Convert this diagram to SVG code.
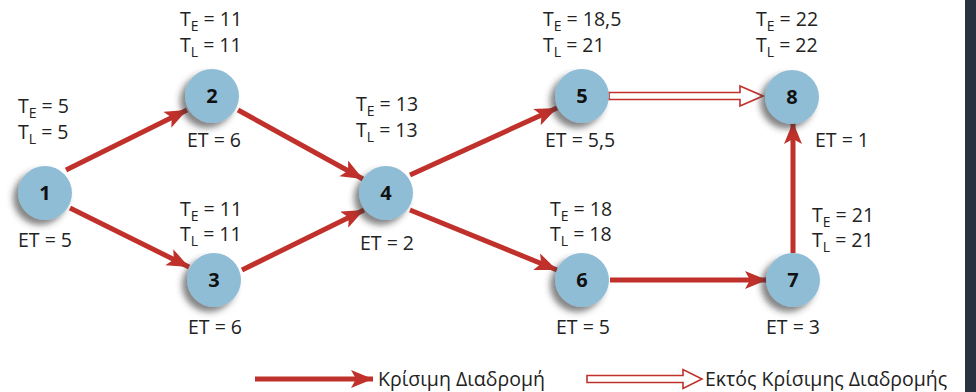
<svg xmlns="http://www.w3.org/2000/svg" width="976" height="392" viewBox="0 0 976 392">
<defs>
<filter id="sh" x="-50%" y="-50%" width="200%" height="200%">
<feDropShadow dx="-5" dy="5" stdDeviation="3" flood-color="#333" flood-opacity="0.6"/>
</filter>
<marker id="ah" markerUnits="userSpaceOnUse" markerWidth="24" markerHeight="20" refX="22" refY="9" orient="auto">
<path d="M0,0 L22,9 L0,18 L5,9 Z" fill="#c0312b"/>
</marker>
<style>
.n{fill:#8fbdd6;filter:url(#sh)}
.num{font-family:"Open Sans","Liberation Sans",sans-serif;font-weight:bold;font-size:20px;fill:#111;text-anchor:middle}
.t{font-family:"Open Sans","Liberation Sans",sans-serif;font-size:19.5px;fill:#222}
.s{font-size:14px}
.c{fill:none;stroke:#c0312b;stroke-width:5;marker-end:url(#ah)}
.h{fill:#fff;stroke:#c0312b;stroke-width:1.6;stroke-linejoin:miter}
</style>
</defs>
<rect width="976" height="392" fill="#fff"/>

<g id="connectors">
<path class="c" d="M66,170 L187,110"/>
<path class="c" d="M70,208 L189,267"/>
<path class="c" d="M238,110 L363,179"/>
<path class="c" d="M242,270 L364,210"/>
<path class="c" d="M410,175 L557,108"/>
<path class="c" d="M410,210 L557,270"/>
<path class="c" d="M610,280 L767,280"/>
<path class="c" d="M793,253 L793,122"/>
<polygon class="h" points="609,92.5 740,92.5 740,86 763,96 740,106 740,99.5 609,99.5"/>
</g>

<g id="node1"><circle class="n" cx="45" cy="193" r="27"/><text class="num" x="45" y="200">1</text>
<text class="t" x="18" y="113">T<tspan class="s" dy="5">E</tspan><tspan dy="-5"> = 5</tspan></text>
<text class="t" x="18" y="139">T<tspan class="s" dy="5">L</tspan><tspan dy="-5"> = 5</tspan></text>
<text class="t" x="18" y="247">ET = 5</text></g>

<g id="node2"><circle class="n" cx="212" cy="96" r="27"/><text class="num" x="212" y="103">2</text>
<text class="t" x="180" y="26">T<tspan class="s" dy="5">E</tspan><tspan dy="-5"> = 11</tspan></text>
<text class="t" x="180" y="52">T<tspan class="s" dy="5">L</tspan><tspan dy="-5"> = 11</tspan></text>
<text class="t" x="187" y="147">ET = 6</text></g>

<g id="node3"><circle class="n" cx="214" cy="280" r="27"/><text class="num" x="214" y="287">3</text>
<text class="t" x="180" y="216">T<tspan class="s" dy="5">E</tspan><tspan dy="-5"> = 11</tspan></text>
<text class="t" x="180" y="241">T<tspan class="s" dy="5">L</tspan><tspan dy="-5"> = 11</tspan></text>
<text class="t" x="188" y="334">ET = 6</text></g>

<g id="node4"><circle class="n" cx="386" cy="193" r="27"/><text class="num" x="386" y="200">4</text>
<text class="t" x="356" y="111">T<tspan class="s" dy="5">E</tspan><tspan dy="-5"> = 13</tspan></text>
<text class="t" x="356" y="137">T<tspan class="s" dy="5">L</tspan><tspan dy="-5"> = 13</tspan></text>
<text class="t" x="360" y="250">ET = 2</text></g>

<g id="node5"><circle class="n" cx="582" cy="96" r="27"/><text class="num" x="582" y="103">5</text>
<text class="t" x="543" y="26">T<tspan class="s" dy="5">E</tspan><tspan dy="-5"> = 18,5</tspan></text>
<text class="t" x="543" y="52">T<tspan class="s" dy="5">L</tspan><tspan dy="-5"> = 21</tspan></text>
<text class="t" x="545" y="147">ET = 5,5</text></g>

<g id="node6"><circle class="n" cx="582" cy="280" r="27"/><text class="num" x="582" y="287">6</text>
<text class="t" x="550" y="216">T<tspan class="s" dy="5">E</tspan><tspan dy="-5"> = 18</tspan></text>
<text class="t" x="550" y="241">T<tspan class="s" dy="5">L</tspan><tspan dy="-5"> = 18</tspan></text>
<text class="t" x="556" y="334">ET = 5</text></g>

<g id="node7"><circle class="n" cx="793" cy="280" r="27"/><text class="num" x="793" y="287">7</text>
<text class="t" x="812" y="222">T<tspan class="s" dy="5">E</tspan><tspan dy="-5"> = 21</tspan></text>
<text class="t" x="812" y="247">T<tspan class="s" dy="5">L</tspan><tspan dy="-5"> = 21</tspan></text>
<text class="t" x="766" y="334">ET = 3</text></g>

<g id="node8"><circle class="n" cx="792" cy="97" r="27"/><text class="num" x="792" y="104">8</text>
<text class="t" x="756" y="26">T<tspan class="s" dy="5">E</tspan><tspan dy="-5"> = 22</tspan></text>
<text class="t" x="756" y="52">T<tspan class="s" dy="5">L</tspan><tspan dy="-5"> = 22</tspan></text>
<text class="t" x="815" y="147">ET = 1</text></g>

<g id="legend">
<path class="c" d="M255,379 L373,379"/>
<text class="t" x="378" y="386">Κρίσιμη Διαδρομή</text>
<polygon class="h" points="587,375.5 683,375.5 683,369.5 702,379 683,388.5 683,382.5 587,382.5"/>
<text class="t" x="705" y="386">Εκτός Κρίσιμης Διαδρομής</text>
</g>
<rect x="965" y="0" width="11" height="392" fill="#2a3140"/>
</svg>
